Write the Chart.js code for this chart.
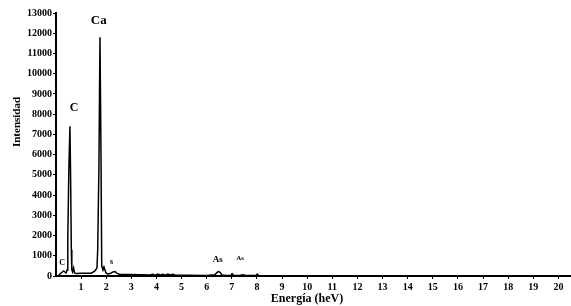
<!DOCTYPE html>
<html><head><meta charset="utf-8">
<script src="https://cdn.jsdelivr.net/npm/chart.js@4"></script>
<style>html,body{margin:0;padding:0;background:#fff;}canvas{display:block;}</style>
</head><body>
<canvas id="c" width="571" height="306"></canvas>
<script>
// Spectrum (energy in keV, intensity in counts)
const energyKeV = [0, 0.1, 0.2, 0.3, 0.4, 0.44, 0.47, 0.51, 0.555, 0.58, 0.61, 0.63, 0.66, 0.70, 0.74, 0.80, 1.0, 1.2, 1.4, 1.55,
  1.63, 1.66, 1.71, 1.75, 1.79, 1.82, 1.87, 1.91, 1.99, 2.07,
  2.15, 2.27, 2.35, 2.43, 2.55, 2.95, 3.4, 3.75, 3.85, 3.95,
  4.05, 4.15, 4.25, 4.35, 4.45, 4.55, 4.65, 4.75, 5.2, 6.0,
  6.33, 6.41, 6.47, 6.53, 6.61, 6.8, 6.95, 7.01, 7.07, 7.3,
  7.45, 7.55, 7.8, 7.96, 8.01, 8.07, 8.3, 10, 15, 20.5];
const intensity = [0, 30, 150, 250, 150, 300, 1850, 5200, 7400, 5000, 1300, 300, 200, 400, 150, 120, 130, 130, 140, 250,
  400, 1300, 5500, 11800, 6200, 500, 300, 450, 150, 100,
  120, 200, 220, 130, 80, 70, 60, 50, 90, 40,
  100, 50, 90, 40, 100, 50, 90, 40, 40, 30,
  60, 180, 220, 180, 50, 30, 30, 120, 30, 30,
  60, 30, 20, 20, 90, 20, 15, 10, 10, 10];
const xTickValues = [1,2,3,4,5,6,7,8,9,10,11,12,13,14,15,16,17,18,19,20];
const yTickValues = [0,1000,2000,3000,4000,5000,6000,7000,8000,9000,10000,11000,12000,13000];
const peakLabels = ['C', 'C', 'Ca', 's', 'As', 'As'];
const peakLabelKeV = [0.24, 0.72, 1.70, 2.21, 6.44, 7.33];
const peakLabelCounts = [650, 8300, 12640, 700, 800, 900];
const peakLabelSize = [8, 12, 13, 8, 9, 7];
const xTitle = 'Energía (heV)';
const yTitle = 'Intensidad';

const points = energyKeV.map((e, i) => ({x: e, y: intensity[i]}));
const FONT = "'Liberation Serif', 'Times New Roman', serif";

const labelPlugin = {
  id: 'labels',
  afterDraw(chart) {
    const ctx = chart.ctx, xs = chart.scales.x, ys = chart.scales.y;
    ctx.save();
    ctx.fillStyle = '#000';
    ctx.textAlign = 'center';
    ctx.textBaseline = 'middle';
    peakLabels.forEach((t, i) => {
      ctx.font = 'bold ' + peakLabelSize[i] + 'px ' + FONT;
      ctx.fillText(t, xs.getPixelForValue(peakLabelKeV[i]), ys.getPixelForValue(peakLabelCounts[i]));
    });
    ctx.font = 'bold 12px ' + FONT;
    ctx.fillText(xTitle, 307, 299);
    ctx.font = 'bold 11px ' + FONT;
    ctx.translate(17, 122);
    ctx.rotate(-Math.PI / 2);
    ctx.fillText(yTitle, 0, 0);
    ctx.restore();
  }
};

new Chart(document.getElementById('c'), {
  type: 'scatter',
  data: {datasets: [{data: points, showLine: true, borderColor: '#000', borderWidth: 1.5,
    pointRadius: 0, tension: 0, fill: false}]},
  options: {
    responsive: false, animation: false,
    layout: {padding: {top: 13, left: 0, right: 0, bottom: 0}},
    plugins: {legend: {display: false}, tooltip: {enabled: false}},
    scales: {
      x: {
        type: 'linear', min: 0, max: 20.5,
        afterBuildTicks: s => { s.ticks = xTickValues.map(v => ({value: v})); },
        afterFit: s => { s.height = 30; },
        ticks: {color: '#000', font: {family: FONT, size: 10, weight: 'bold'}, padding: 2,
          maxRotation: 0, autoSkip: false, callback: v => String(v)},
        grid: {display: true, drawOnChartArea: false, drawTicks: true, tickLength: 3, color: '#000'},
        border: {display: true, color: '#000', width: 2}
      },
      y: {
        min: 0, max: 13000,
        afterBuildTicks: s => { s.ticks = yTickValues.map(v => ({value: v})); },
        afterFit: s => { s.width = 56; },
        ticks: {color: '#000', font: {family: FONT, size: 10, weight: 'bold'}, padding: 1,
          callback: v => String(v)},
        grid: {display: true, drawOnChartArea: false, drawTicks: true, tickLength: 3, color: '#000'},
        border: {display: true, color: '#000', width: 2}
      }
    }
  },
  plugins: [labelPlugin]
});
</script>
</body></html>
